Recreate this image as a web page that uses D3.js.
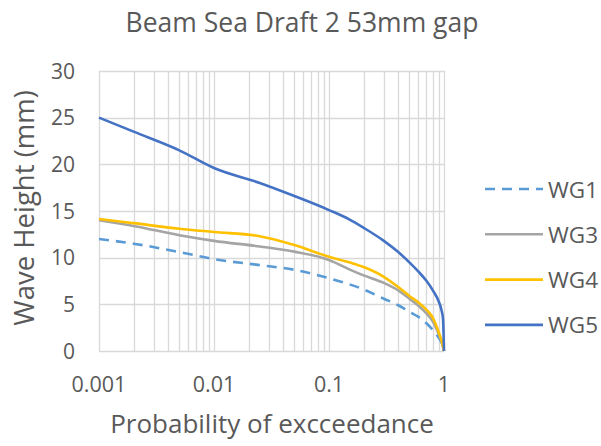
<!DOCTYPE html>
<html>
<head>
<meta charset="utf-8">
<script src="https://cdn.jsdelivr.net/npm/d3@7"></script>
<style>
  body { margin: 0; background: #fff; }
  text { font-family: "Open Sans", sans-serif; fill: #595959; }
</style>
</head>
<body>
<svg id="chart" width="601" height="446"></svg>
<script>
// probability of exceedance, shared by every series
var prob = [0.001, 0.002, 0.005, 0.01, 0.025, 0.05, 0.1, 0.15, 0.2, 0.3, 0.4, 0.5, 0.6, 0.7, 0.8, 0.9, 0.95, 0.98, 1];

var wg1 = [12.0, 11.5, 10.6, 9.85, 9.2, 8.7, 7.8, 7.15, 6.6, 5.6, 4.9, 4.2, 3.65, 3.0, 2.25, 1.4, 0.9, 0.4, 0];
var wg3 = [14.0, 13.4, 12.4, 11.8, 11.2, 10.65, 9.75, 8.75, 8.1, 7.3, 6.5, 5.6, 4.85, 4.05, 3.15, 1.8, 1.05, 0.45, 0];
var wg4 = [14.15, 13.7, 13.1, 12.75, 12.3, 11.35, 10.1, 9.5, 9.0, 7.95, 6.85, 5.9, 5.2, 4.45, 3.55, 2.0, 1.15, 0.5, 0];
var wg5 = [25.0, 23.5, 21.5, 19.6, 18.0, 16.6, 15.1, 14.1, 13.2, 11.8, 10.6, 9.5, 8.5, 7.55, 6.5, 5.3, 4.4, 3.5, 0];

var seriesNames = ['WG1', 'WG3', 'WG4', 'WG5'];
var seriesValues = [wg1, wg3, wg4, wg5];
var seriesColors = ['#5B9BD5', '#A5A5A5', '#FFC000', '#4472C4'];

var xTicks = [0.001, 0.01, 0.1, 1];
var yTicks = [0, 5, 10, 15, 20, 25, 30];

var svg = d3.select('#chart');
var plotLeft = 99, plotRight = 444, plotTop = 71, plotBottom = 351;

var x = d3.scaleLog().domain([0.001, 1]).range([plotLeft, plotRight]);
var y = d3.scaleLinear().domain([0, 30]).range([plotBottom, plotTop]);

// minor log gridlines
var minor = [];
[0.001, 0.01, 0.1].forEach(function(d) {
    for (var k = 1; k <= 9; k++) minor.push(d * k);
});
minor.push(1);

svg.append('g')
    .selectAll('line')
    .data(minor)
    .enter()
    .append('line')
    .attr('x1', function(d) { return Math.round(x(d)) + 0.5; })
    .attr('x2', function(d) { return Math.round(x(d)) + 0.5; })
    .attr('y1', plotTop)
    .attr('y2', plotBottom)
    .attr('stroke', '#D9D9D9')
    .attr('stroke-width', 1.3);

svg.append('g')
    .selectAll('line')
    .data(yTicks)
    .enter()
    .append('line')
    .attr('x1', plotLeft)
    .attr('x2', plotRight)
    .attr('y1', function(d) { return Math.round(y(d)) + 0.5; })
    .attr('y2', function(d) { return Math.round(y(d)) + 0.5; })
    .attr('stroke', '#D9D9D9')
    .attr('stroke-width', 1.3);

// y tick labels
svg.append('g')
    .selectAll('text')
    .data(yTicks)
    .enter()
    .append('text')
    .attr('x', 75)
    .attr('y', function(d) { return y(d) + 7.8; })
    .attr('text-anchor', 'end')
    .style('font-size', '21px')
    .text(function(d) { return d; });

// x tick labels
svg.append('g')
    .selectAll('text')
    .data(xTicks)
    .enter()
    .append('text')
    .attr('x', function(d) { return x(d); })
    .attr('y', 392)
    .attr('text-anchor', 'middle')
    .style('font-size', '21.5px')
    .text(function(d) { return d; });

var line = d3.line()
    .x(function(d) { return x(d[0]); })
    .y(function(d) { return y(d[1]); })
    .curve(d3.curveMonotoneX);

svg.append('g')
    .selectAll('path')
    .data(seriesValues)
    .enter()
    .append('path')
    .attr('d', function(vals) { return line(d3.zip(prob, vals)); })
    .attr('fill', 'none')
    .attr('stroke', function(d, i) { return seriesColors[i]; })
    .attr('stroke-width', 2.6)
    .attr('stroke-dasharray', function(d, i) { return i === 0 ? '10,7' : null; });

// legend
var legend = svg.append('g')
    .selectAll('g')
    .data(seriesNames)
    .enter()
    .append('g')
    .attr('transform', function(d, i) { return 'translate(0,' + (189 + i * 45.3) + ')'; });

legend.append('line')
    .attr('x1', 485)
    .attr('x2', 543)
    .attr('stroke', function(d, i) { return seriesColors[i]; })
    .attr('stroke-width', 2.6)
    .attr('stroke-dasharray', function(d, i) { return i === 0 ? '10,7' : null; });

legend.append('text')
    .attr('x', 548)
    .attr('y', 8.5)
    .style('font-size', '22.5px')
    .text(function(d) { return d; });

// titles
svg.append('text')
    .attr('x', 302)
    .attr('y', 32)
    .attr('text-anchor', 'middle')
    .style('font-size', '26.5px')
    .text('Beam Sea Draft 2 53mm gap');

svg.append('text')
    .attr('x', 272)
    .attr('y', 433)
    .attr('text-anchor', 'middle')
    .style('font-size', '26px')
    .text('Probability of excceedance');

svg.append('text')
    .attr('transform', 'translate(34,208) rotate(-90)')
    .attr('text-anchor', 'middle')
    .style('font-size', '27.5px')
    .text('Wave Height (mm)');
</script>
</body>
</html>
